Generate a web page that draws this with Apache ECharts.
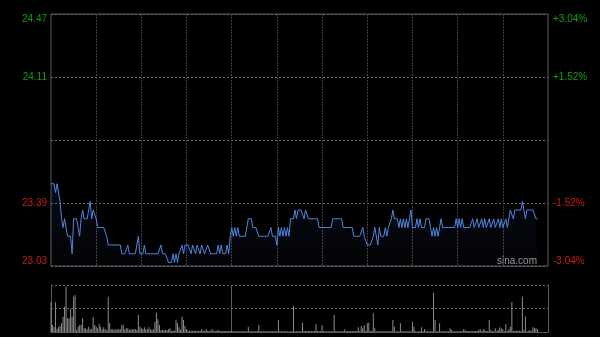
<!DOCTYPE html>
<html><head><meta charset="utf-8">
<script src="https://cdn.jsdelivr.net/npm/echarts@6/dist/echarts.min.js"></script>
<style>html,body{margin:0;padding:0;background:#000;}#c{width:600px;height:337px;}</style>
</head><body><div id="c"></div>
<script>
// session slots: one per minute (0..330)
const slotCount = 331;
const categories = Array.from({length: slotCount}, (_, i) => String(i));

// price tick labels (left) and change tick labels (right)
const priceTicks = ['23.03', '23.39', '23.75', '24.11', '24.47'];
const pctTicks = ['-3.04%', '-1.52%', '', '+1.52%', '+3.04%'];
const axisBase = 23.03;
const axisStep = 0.36;

// minute prices
const prices = [
23.50,23.50,23.50,23.45,23.50,23.50,23.40,23.30,23.25,23.30,
23.30,23.20,23.20,23.20,23.10,23.30,23.30,23.30,23.25,23.20,
23.30,23.35,23.30,23.30,23.30,23.30,23.40,23.30,23.35,23.35,
23.30,23.25,23.25,23.25,23.25,23.25,23.25,23.20,23.15,23.15,
23.15,23.15,23.15,23.15,23.15,23.15,23.15,23.10,23.10,23.10,
23.10,23.15,23.10,23.10,23.10,23.10,23.10,23.15,23.20,23.10,
23.10,23.10,23.15,23.10,23.10,23.10,23.10,23.10,23.10,23.10,
23.10,23.10,23.10,23.15,23.10,23.10,23.10,23.10,23.05,23.05,
23.05,23.10,23.05,23.10,23.05,23.10,23.10,23.15,23.10,23.15,
23.15,23.15,23.15,23.10,23.15,23.15,23.10,23.15,23.15,23.10,
23.15,23.15,23.10,23.10,23.15,23.15,23.10,23.10,23.10,23.10,
23.10,23.15,23.10,23.15,23.10,23.10,23.10,23.15,23.10,23.20,
23.25,23.20,23.25,23.20,23.25,23.20,23.20,23.20,23.20,23.20,
23.25,23.30,23.30,23.30,23.25,23.25,23.25,23.25,23.20,23.20,
23.20,23.20,23.20,23.20,23.20,23.20,23.25,23.20,23.20,23.20,
23.15,23.25,23.20,23.25,23.20,23.25,23.20,23.25,23.20,23.30,
23.30,23.30,23.35,23.30,23.35,23.35,23.35,23.35,23.30,23.35,
23.35,23.30,23.30,23.30,23.30,23.30,23.30,23.30,23.25,23.25,
23.25,23.25,23.25,23.25,23.25,23.25,23.25,23.30,23.30,23.30,
23.30,23.30,23.30,23.30,23.25,23.25,23.25,23.25,23.25,23.25,
23.25,23.20,23.20,23.20,23.20,23.20,23.20,23.25,23.20,23.20,
23.15,23.15,23.15,23.15,23.20,23.25,23.20,23.15,23.25,23.20,
23.20,23.20,23.25,23.20,23.25,23.25,23.30,23.35,23.30,23.30,
23.30,23.25,23.30,23.25,23.30,23.25,23.30,23.25,23.30,23.35,
23.25,23.25,23.25,23.30,23.25,23.30,23.25,23.25,23.25,23.30,
23.30,23.30,23.25,23.20,23.25,23.20,23.25,23.20,23.25,23.30,
23.25,23.25,23.25,23.25,23.25,23.25,23.25,23.25,23.25,23.30,
23.25,23.30,23.25,23.30,23.25,23.25,23.25,23.25,23.25,23.25,
23.30,23.25,23.25,23.30,23.25,23.25,23.30,23.25,23.30,23.25,
23.25,23.30,23.25,23.25,23.30,23.25,23.25,23.30,23.25,23.30,
23.25,23.25,23.30,23.25,23.30,23.35,23.35,23.30,23.35,23.35,
23.35,23.35,23.35,23.40,23.35,23.30,23.35,23.35,23.35,23.35,
23.35,23.35,23.30,23.30
];

// minute volumes (relative units)
const volumes = [
89,21,15,89,10,15,18,26,46,76,
136,41,41,68,46,106,111,6,16,21,
21,41,11,11,8,16,8,10,44,21,
16,11,24,16,8,14,8,6,106,26,
8,8,6,8,8,8,8,21,21,8,
11,11,6,8,8,8,8,6,51,16,
11,8,14,8,8,14,8,6,8,31,
58,38,21,6,6,6,6,6,8,11,
4,4,4,36,26,14,6,46,36,18,
8,4,4,4,4,4,4,4,4,4,
8,4,4,8,4,4,4,8,4,4,
4,6,3,3,3,3,3,3,3,3,
3,2,2,2,2,2,2,2,2,2,
2,16,2,2,2,2,2,3,21,2,
2,2,2,2,2,2,2,2,2,2,
2,36,2,2,2,2,2,2,2,2,
2,78,2,2,2,2,2,28,3,3,
3,3,3,3,3,3,24,3,3,3,
21,3,2,2,2,2,2,2,51,2,
2,2,2,2,2,8,3,3,3,3,
3,3,3,3,14,3,18,11,21,3,
26,28,3,3,56,11,2,2,2,2,
2,2,2,2,2,2,2,36,16,2,
2,2,26,2,2,2,2,2,2,2,
31,16,2,2,2,2,14,2,9,2,
2,2,2,2,118,36,2,2,26,2,
2,2,2,2,2,11,6,2,2,2,
2,2,2,2,8,6,3,3,3,3,
3,3,3,3,6,8,3,8,6,3,
3,36,6,3,3,11,3,6,14,11,
8,3,24,3,8,16,90,3,4,4,
4,4,3,106,6,46,2,3,6,3,
14,11,11,8
];
const volumeMax = 141;

const GREEN = '#119e11';
const RED = '#cc1b1b';
const tickColor = (v) => (v > axisStep * 2 + 1e-6 ? GREEN : RED);

const chart = echarts.init(document.getElementById('c'), null, {renderer: 'canvas'});
chart.setOption({
  animation: false,
  backgroundColor: '#000',
  grid: [
    {left: 51, top: 14, width: 497, height: 252, show: true, borderColor: '#5a5a5a', borderWidth: 1, backgroundColor: 'transparent'},
    {left: 51, top: 285, width: 497, height: 47, show: false}
  ],
  xAxis: [
    {
      type: 'category', gridIndex: 0, data: categories, boundaryGap: false,
      axisLine: {show: false}, axisTick: {show: false}, axisLabel: {show: false},
      splitLine: {show: true, interval: (i) => i % 30 === 0 && i > 0 && i < 330,
        lineStyle: {color: '#3e3e3e', type: [2, 1], width: 1}}
    },
    {
      type: 'category', gridIndex: 1, data: categories, boundaryGap: false,
      axisLine: {show: true, lineStyle: {color: '#5a5a5a'}}, axisTick: {show: false}, axisLabel: {show: false},
      splitLine: {show: true, interval: (i) => i === 120,
        lineStyle: {color: '#5a5a5a', type: 'solid', width: 1}}
    }
  ],
  yAxis: [
    {
      type: 'value', gridIndex: 0, min: 0, max: axisStep * 4, interval: axisStep, position: 'left',
      axisLine: {show: false}, axisTick: {show: false},
      axisLabel: {
        show: true, margin: 4, fontSize: 10, fontFamily: 'Arial, "Liberation Sans", sans-serif',
        formatter: (v, i) => (i === 2 ? '' : priceTicks[i]),
        color: (v) => tickColor(v),
        verticalAlignMaxLabel: 'top', verticalAlignMinLabel: 'bottom'
      },
      splitLine: {show: true, lineStyle: {color: '#666', type: [2, 2], width: 1}}
    },
    {
      type: 'value', gridIndex: 0, min: 0, max: axisStep * 4, interval: axisStep, position: 'right',
      axisLine: {show: false}, axisTick: {show: false},
      axisLabel: {
        show: true, margin: 5, fontSize: 10, fontFamily: 'Arial, "Liberation Sans", sans-serif',
        formatter: (v, i) => pctTicks[i],
        color: (v) => tickColor(v),
        verticalAlignMaxLabel: 'top', verticalAlignMinLabel: 'bottom'
      },
      splitLine: {show: false}
    },
    {
      type: 'value', gridIndex: 1, min: 0, max: volumeMax, interval: volumeMax / 2, position: 'left',
      axisLine: {show: true, lineStyle: {color: '#5a5a5a'}}, axisTick: {show: false}, axisLabel: {show: false},
      splitLine: {show: true, lineStyle: {color: '#666', type: [2, 2], width: 1}}
    },
    {
      type: 'value', gridIndex: 1, min: 0, max: volumeMax, interval: volumeMax / 2, position: 'right',
      axisLine: {show: true, lineStyle: {color: '#5a5a5a'}}, axisTick: {show: false}, axisLabel: {show: false},
      splitLine: {show: false}
    }
  ],
  series: [
    {
      type: 'line', xAxisIndex: 0, yAxisIndex: 0,
      data: prices.map((p) => +(p - axisBase).toFixed(4)),
      showSymbol: false, symbol: 'none',
      lineStyle: {color: '#4f86de', width: 1},
      areaStyle: {
        origin: 'start',
        color: new echarts.graphic.LinearGradient(0, 0, 0, 1, [
          {offset: 0, color: 'rgba(60,100,180,0.16)'},
          {offset: 1, color: 'rgba(60,100,180,0.04)'}
        ])
      },
      z: 3
    },
    {
      type: 'bar', xAxisIndex: 1, yAxisIndex: 2,
      data: volumes, barWidth: 1,
      itemStyle: {color: '#8c8c8c'},
      z: 2
    }
  ],
  graphic: [
    {
      type: 'text', right: 63, top: 256, silent: true,
      style: {text: 'sina.com', fill: '#9a9a9a', font: '10px Arial, "Liberation Sans", sans-serif'}
    }
  ]
});
</script>
</body></html>
